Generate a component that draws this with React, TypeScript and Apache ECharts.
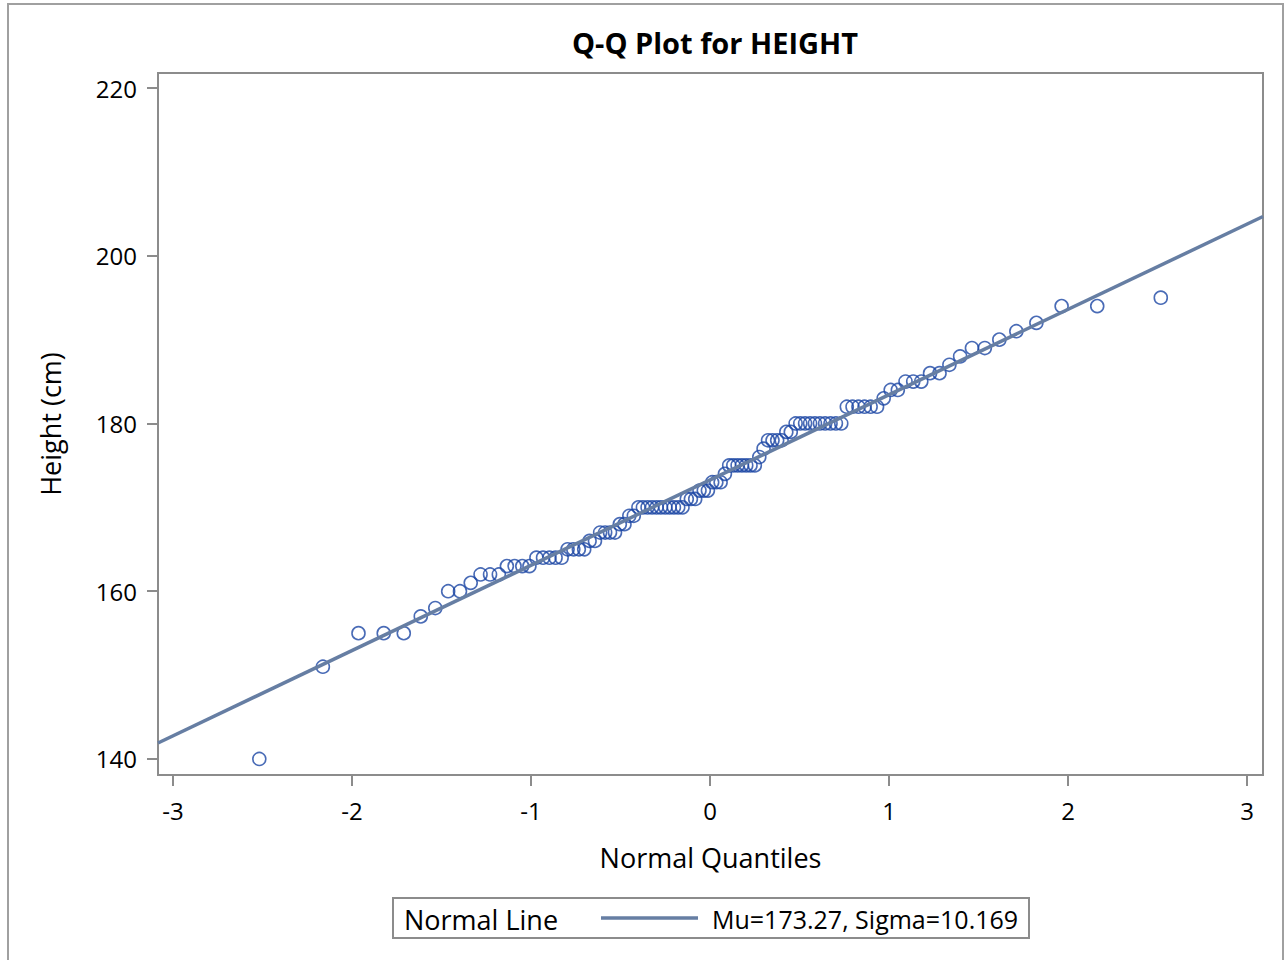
import React, { useEffect, useRef } from "react";
import * as echarts from "echarts";

// Sorted HEIGHT values (cm)
const HEIGHTS: number[] = [
  140, 151, 155, 155, 155, 157, 158, 160, 160, 161,
  162, 162, 162, 163, 163, 163, 163, 164, 164, 164,
  164, 164, 165, 165, 165, 165, 166, 166, 167, 167,
  167, 167, 168, 168, 169, 169, 170, 170, 170, 170,
  170, 170, 170, 170, 170, 170, 170, 171, 171, 171,
  172, 172, 172, 173, 173, 173, 174, 175, 175, 175,
  175, 175, 175, 175, 176, 177, 178, 178, 178, 178,
  179, 179, 180, 180, 180, 180, 180, 180, 180, 180,
  180, 180, 182, 182, 182, 182, 182, 182, 183, 184,
  184, 185, 185, 185, 186, 186, 187, 188, 189, 189,
  190, 191, 192, 194, 194, 195,
];

// Normal quantiles (x positions)
const QUANTILES: number[] = [
  -2.518, -2.163, -1.964, -1.823, -1.711, -1.616, -1.535, -1.463, -1.397, -1.337,
  -1.282, -1.229, -1.18, -1.135, -1.092, -1.049, -1.009, -0.97, -0.933, -0.897,
  -0.863, -0.829, -0.796, -0.764, -0.733, -0.703, -0.673, -0.643, -0.614, -0.586,
  -0.559, -0.531, -0.504, -0.478, -0.451, -0.426, -0.4, -0.375, -0.349, -0.324,
  -0.299, -0.275, -0.25, -0.226, -0.202, -0.178, -0.154, -0.13, -0.107, -0.083,
  -0.059, -0.035, -0.012,
  0.012, 0.035, 0.059, 0.083, 0.107, 0.13, 0.154, 0.178, 0.202, 0.226,
  0.25, 0.275, 0.299, 0.324, 0.349, 0.375, 0.4, 0.426, 0.451, 0.478,
  0.504, 0.531, 0.559, 0.586, 0.614, 0.643, 0.673, 0.703, 0.733, 0.764,
  0.796, 0.829, 0.863, 0.897, 0.933, 0.97, 1.009, 1.049, 1.092, 1.135,
  1.18, 1.229, 1.282, 1.337, 1.397, 1.463, 1.535, 1.616, 1.711, 1.823,
  1.964, 2.163, 2.518,
];

const X_TICKS: number[] = [-3, -2, -1, 0, 1, 2, 3];
const Y_TICKS: number[] = [140, 160, 180, 200, 220];

const MU = 173.27;
const SIGMA = 10.169;
const X_MIN = -3.084;
const X_MAX = 3.089;
const Y_MIN = 138.09;
const Y_MAX = 221.79;

const TITLE = "Q-Q Plot for HEIGHT";
const X_NAME = "Normal Quantiles";
const Y_NAME = "Height (cm)";
const LEGEND_TITLE = "Normal Line";
const LEGEND_LABEL = "Mu=173.27, Sigma=10.169";

const FONT = "'Open Sans', 'DejaVu Sans', sans-serif";
const LINE_COLOR = "#667ea3";
const MARKER_COLOR = "#1c46a4";
const FRAME_COLOR = "#8c8c8c";

export default function App() {
  const ref = useRef<HTMLDivElement>(null);

  useEffect(() => {
    if (!ref.current) return;
    const chart = echarts.init(ref.current, undefined, { renderer: "svg" });

    const points = HEIGHTS.map((h, i) => [QUANTILES[i], h]);
    const lineData = [
      [X_MIN, MU + SIGMA * X_MIN],
      [X_MAX, MU + SIGMA * X_MAX],
    ];

    chart.setOption({
      animation: false,
      backgroundColor: "#ffffff",
      textStyle: { fontFamily: FONT },
      title: {
        text: TITLE,
        left: 710,
        textAlign: "center",
        top: 23,
        textStyle: { fontFamily: FONT, fontSize: 29, fontWeight: "bold", color: "#000" },
      },
      grid: {
        left: 158,
        top: 73,
        right: 22,
        bottom: 185,
        show: true,
        borderColor: FRAME_COLOR,
        borderWidth: 2,
        backgroundColor: "transparent",
      },
      xAxis: {
        type: "value",
        min: X_MIN,
        max: X_MAX,
        name: X_NAME,
        nameLocation: "middle",
        nameGap: 69,
        nameTextStyle: { fontFamily: FONT, fontSize: 27, color: "#000" },
        axisLine: { show: true, onZero: false, lineStyle: { color: FRAME_COLOR, width: 2 } },
        axisTick: {
          show: true,
          length: 11,
          customValues: X_TICKS,
          lineStyle: { color: FRAME_COLOR, width: 2 },
        },
        axisLabel: {
          customValues: X_TICKS,
          margin: 23,
          fontFamily: FONT,
          fontSize: 24,
          color: "#000",
        },
        splitLine: { show: false },
      },
      yAxis: {
        type: "value",
        min: Y_MIN,
        max: Y_MAX,
        name: Y_NAME,
        nameLocation: "middle",
        nameGap: 94,
        nameTextStyle: { fontFamily: FONT, fontSize: 27, color: "#000" },
        axisLine: { show: true, onZero: false, lineStyle: { color: FRAME_COLOR, width: 2 } },
        axisTick: {
          show: true,
          length: 11,
          customValues: Y_TICKS,
          lineStyle: { color: FRAME_COLOR, width: 2 },
        },
        axisLabel: {
          customValues: Y_TICKS,
          margin: 21,
          fontFamily: FONT,
          fontSize: 24,
          color: "#000",
        },
        splitLine: { show: false },
      },
      series: [
        {
          type: "scatter",
          name: "HEIGHT",
          data: points,
          symbol: "circle",
          symbolSize: 13,
          itemStyle: {
            color: "transparent",
            borderColor: MARKER_COLOR,
            borderWidth: 1.6,
          },
          z: 2,
        },
        {
          type: "line",
          name: LEGEND_TITLE,
          data: lineData,
          showSymbol: false,
          symbol: "none",
          lineStyle: { color: LINE_COLOR, width: 3.5 },
          z: 3,
        },
      ],
      graphic: [
        {
          type: "rect",
          shape: { x: 8, y: 4, width: 1275, height: 1000 },
          style: { fill: "none", stroke: "#a0a0a0", lineWidth: 2 },
          silent: true,
        },
        {
          type: "rect",
          shape: { x: 393, y: 898, width: 636, height: 40 },
          style: { fill: "none", stroke: FRAME_COLOR, lineWidth: 2 },
          silent: true,
        },
        {
          type: "text",
          x: 404,
          y: 919,
          style: {
            text: LEGEND_TITLE,
            fontFamily: FONT,
            fontSize: 27,
            fill: "#000",
            verticalAlign: "middle",
            align: "left",
          },
        },
        {
          type: "line",
          shape: { x1: 601, y1: 918, x2: 698, y2: 918 },
          style: { stroke: LINE_COLOR, lineWidth: 3.5 },
        },
        {
          type: "text",
          x: 712,
          y: 919,
          style: {
            text: LEGEND_LABEL,
            fontFamily: FONT,
            fontSize: 25,
            fill: "#000",
            verticalAlign: "middle",
            align: "left",
          },
        },
      ],
    });

    return () => {
      chart.dispose();
    };
  }, []);

  return (
    <div
      ref={ref}
      style={{ position: "absolute", left: 0, top: 0, width: 1285, height: 960 }}
    />
  );
}
